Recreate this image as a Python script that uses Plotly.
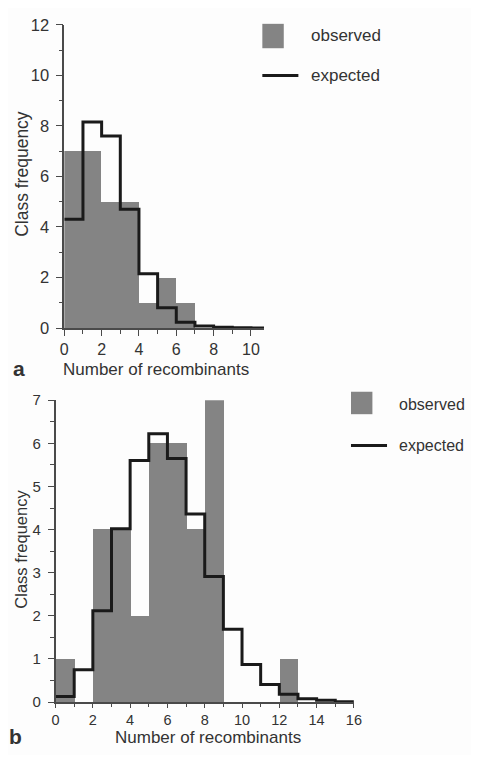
import plotly.graph_objects as go

# ---- data ----
bins_a = [0, 1, 2, 3, 4, 5, 6, 7, 8, 9, 10]
observed_a = [7, 7, 5, 5, 1, 2, 1, 0, 0, 0, 0]
expected_a = [4.3, 8.15, 7.6, 4.7, 2.15, 0.8, 0.23, 0.08, 0.03, 0.01, 0.0]

bins_b = [0, 1, 2, 3, 4, 5, 6, 7, 8, 9, 10, 11, 12, 13, 14, 15]
observed_b = [1, 0, 4, 4, 2, 6, 6, 4, 7, 0, 0, 0, 1, 0, 0, 0]
expected_b = [0.13, 0.75, 2.12, 4.02, 5.6, 6.22, 5.65, 4.36, 2.91, 1.69, 0.87, 0.41, 0.18, 0.08, 0.04, 0.01]

x_ticks_a = [0, 2, 4, 6, 8, 10]
y_ticks_a = [0, 2, 4, 6, 8, 10, 12]
x_ticks_b = [0, 2, 4, 6, 8, 10, 12, 14, 16]
y_ticks_b = [0, 1, 2, 3, 4, 5, 6, 7]

PAGE_W, PAGE_H = 479, 763
OFF = 8  # browser body margin
W, H = PAGE_W - 2 * OFF, PAGE_H - 2 * OFF
BAR = "#848484"
INK = "#333333"
LINE = "#1a1a1a"
AX = "#4a4a4a"
FONT = "Liberation Sans"


def px(x):
    return (x - OFF) / W


def py(y):
    return 1 - (y - OFF) / H


fig = go.Figure()

# panel a
xa_end = 10.7
fig.add_trace(go.Bar(x=[b + 0.5 for b in bins_a], y=observed_a, width=1,
                     marker=dict(color=BAR, line=dict(width=0)),
                     xaxis="x", yaxis="y", showlegend=False))
fig.add_trace(go.Scatter(x=bins_a + [xa_end], y=expected_a + [expected_a[-1]],
                         mode="lines", line=dict(color=LINE, width=3, shape="hv"),
                         xaxis="x", yaxis="y", showlegend=False))

# panel b
fig.add_trace(go.Bar(x=[b + 0.5 for b in bins_b], y=observed_b, width=1,
                     marker=dict(color=BAR, line=dict(width=0)),
                     xaxis="x2", yaxis="y2", showlegend=False))
fig.add_trace(go.Scatter(x=bins_b + [bins_b[-1] + 1], y=expected_b + [expected_b[-1]],
                         mode="lines", line=dict(color=LINE, width=3, shape="hv"),
                         xaxis="x2", yaxis="y2", showlegend=False))


def axis(size, standoff, ticklen, **kw):
    d = dict(showgrid=False, zeroline=False, showline=True, linecolor=AX,
             linewidth=1.6, ticks="outside", tickcolor=AX, tickwidth=1.4,
             ticklen=ticklen, tickfont=dict(family=FONT, size=size, color=INK),
             ticklabelstandoff=standoff, fixedrange=True)
    d.update(kw)
    return d


minor1 = dict(dtick=1, tick0=0, ticks="outside", ticklen=4, tickcolor=AX, tickwidth=1.2)
minor1b = dict(dtick=1, tick0=0, ticks="outside", ticklen=3, tickcolor=AX, tickwidth=1.2)
minor05 = dict(dtick=0.5, tick0=0, ticks="outside", ticklen=4, tickcolor=AX, tickwidth=1.2)

fig.update_layout(
    width=W, height=H,
    margin=dict(l=0, r=0, t=0, b=0),
    paper_bgcolor="#fdfdfd", plot_bgcolor="#fdfdfd",
    bargap=0,
    font=dict(family=FONT, color=INK),
    xaxis=axis(16, 0, 6, domain=[px(61.7), px(266.7)], range=[0, xa_end],
               anchor="y", tickvals=x_ticks_a, minor=minor1),
    yaxis=axis(16.5, 3, 7, domain=[py(326.7), py(16)], range=[0, 12],
               anchor="x", tickvals=y_ticks_a, minor=minor1),
    xaxis2=axis(14.5, 0, 4, domain=[px(52.7), px(359)], range=[0, 16],
                anchor="y2", tickvals=x_ticks_b, minor=minor1b),
    yaxis2=axis(15, 4, 6, domain=[py(710), py(400.7)], range=[0, 7],
                anchor="x2", tickvals=y_ticks_b, minor=minor05),
)

ann = []
shapes = []


def text(x, y, s, size=17, angle=0, xanchor="center", bold=False):
    ann.append(dict(x=px(x), y=py(y), xref="paper", yref="paper",
                    text=f"<b>{s}</b>" if bold else s,
                    showarrow=False, xanchor=xanchor, yanchor="middle", textangle=angle,
                    font=dict(family=FONT, size=size, color=INK)))


# panel a labels
text(155.7, 369, "Number of recombinants", size=17)
text(18, 169, "Class frequency", size=17.5, angle=-90)
text(15, 368.5, "a", size=21, bold=True)
# panel b labels
text(209, 746.5, "Number of recombinants", size=17)
text(17, 553, "Class frequency", size=16.5, angle=-90)
text(12, 745, "b", size=21, bold=True)


def legend(x0, sq_top, sq_bot, y_obs, y_line, line_len, xt, fs):
    shapes.append(dict(type="rect", xref="paper", yref="paper",
                       x0=px(x0), x1=px(x0 + 22), y0=py(sq_bot), y1=py(sq_top),
                       fillcolor=BAR, line=dict(width=0)))
    shapes.append(dict(type="line", xref="paper", yref="paper",
                       x0=px(x0), x1=px(x0 + line_len), y0=py(y_line), y1=py(y_line),
                       line=dict(color=LINE, width=3)))
    text(xt, y_obs, "observed", size=fs, xanchor="left")
    text(xt, y_line, "expected", size=fs, xanchor="left")


legend(265, 15, 40, 27, 68, 37, 313, 17)
legend(356, 392, 415, 405, 447, 37, 403, 16)

fig.update_layout(annotations=ann, shapes=shapes)
fig.write_html("out.html")
